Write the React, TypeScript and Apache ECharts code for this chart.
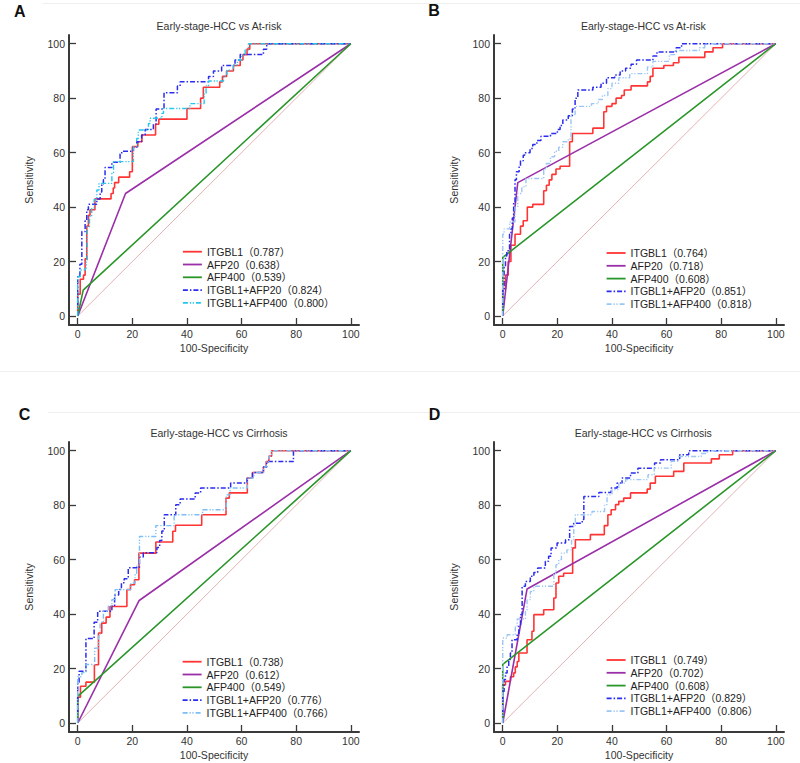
import React, { useEffect, useRef } from "react";
import * as echarts from "echarts";

// ---------- data ----------
const TICKS = [0, 20, 40, 60, 80, 100];
const MARKERS = ["ITGBL1", "AFP20", "AFP400", "ITGBL1+AFP20", "ITGBL1+AFP400"];
const PANEL_LABELS = ["A", "B", "C", "D"];
const PANEL_TITLES = [
  "Early-stage-HCC vs At-risk",
  "Early-stage-HCC vs At-risk",
  "Early-stage-HCC vs Cirrhosis",
  "Early-stage-HCC vs Cirrhosis",
];
const X_NAME = "100-Specificity";
const Y_NAME = "Sensitivity";
const DIAGONAL = [[0, 0], [100, 100]];

const AUC_A = [0.787, 0.638, 0.539, 0.824, 0.8];
const AUC_B = [0.764, 0.718, 0.608, 0.851, 0.818];
const AUC_C = [0.738, 0.612, 0.549, 0.776, 0.766];
const AUC_D = [0.749, 0.702, 0.608, 0.829, 0.806];

// step curves: each point = (100-specificity, sensitivity after the jump)
const A_ITGBL1 = [[0,0],[0,8],[0.9,13.5],[2.1,15],[2.7,21],[3.3,33],[3.9,37],[4.5,39],[6.3,43],[12.2,45],[13,47],[13.5,49],[15,51],[19,53],[20,62.2],[22,64],[23.5,66.5],[28.5,70.4],[29.7,72.3],[40,76.2],[45,80],[46,84],[52,86],[53,88],[54.5,90],[57,92],[59.5,94],[60.5,96],[62,98],[63,100],[100,100]];
const A_AFP20 = [[0,0],[17.5,45],[100,100]];
const A_AFP400 = [[0,0],[2,9.5],[100,100]];
const A_COMBO20 = [[0,0],[0,15],[0.8,19],[1.5,31],[2.7,35],[3.3,39],[3.9,41],[7,43],[8.2,45.5],[8.8,48.5],[9.4,50],[10,54.5],[12.5,56.5],[15.5,59.5],[16.1,60.5],[20.4,62],[21.6,64],[23.4,66.5],[24.7,68.5],[27.7,70.5],[28.7,76],[31.6,82],[36.5,84.5],[37.5,86],[47.9,88],[49.7,90],[52.7,92],[57.6,94],[59.5,96],[68,98],[69.2,100],[100,100]];
const A_COMBO400 = [[0,0],[0,14.4],[0.9,16.9],[2.7,17.5],[3.1,20.6],[3.5,32.8],[4.3,36.5],[5.1,39.5],[6,42.8],[7,46.3],[7.8,48.7],[12.5,52.4],[13.1,56.7],[20.4,62.2],[21.6,65.2],[22.2,68.3],[25.9,70.7],[26.5,72.6],[30.8,74.4],[31.4,76.2],[41.1,78],[46.3,81.8],[47,84.5],[47.9,86.3],[53.4,88.1],[54.6,90.3],[57,92.2],[58.5,94],[60.1,95.8],[61.3,97.7],[62.5,100],[100,100]];

const B_ITGBL1 = [[0,0],[0,10],[1,15],[2,20],[3,26],[4.5,30],[6.5,33],[7.5,35],[9,40],[11,41],[15,46],[16,48],[17,50],[18,52],[19.5,54],[21,55],[24.5,64],[25.5,67],[33,69],[37,75],[38,77],[40,78],[41.5,80],[43.5,81],[44.5,83],[47,84.5],[53,86],[54,88],[55,91],[59,92],[62.5,93],[64.5,95],[74,97],[77,98.5],[80.5,100],[100,100]];
const B_AFP20 = [[0,0],[5.5,49],[100,100]];
const B_AFP400 = [[0,0],[0,21.5],[100,100]];
const B_COMBO20 = [[0,0],[0,10],[0.5,18],[1,22],[1.5,24],[2.5,30],[3,32],[3.5,36],[4,42],[4.5,50],[5,53],[6,55],[6.5,57],[7.5,59],[8,60],[10,61.5],[11,63],[12.5,64.5],[14,66],[17.5,67],[20,68.5],[21,70],[22,72],[24,73.5],[25.5,76],[26.5,80],[27.5,83],[33,84],[36,85.5],[38,87.5],[41,88.5],[43,90],[45,91],[47,92.5],[49,94],[55,95.5],[56.5,97],[63.5,98.5],[65.5,100],[100,100]];
const B_COMBO400 = [[0,0],[0,30],[0.5,32],[2.5,34.5],[4.5,40],[5.5,45],[7,47.5],[8.5,50.5],[15,54],[16,56],[17.5,58.5],[19,60.5],[20.5,62],[22,64],[24,65],[25,74],[26.5,77],[32.5,78],[35,79.5],[36.5,81],[38.5,83.5],[40,85.5],[42.5,87.5],[46.5,89],[53,91.5],[55,93.5],[61,96],[63,97.5],[72,98.5],[74,100],[100,100]];

const C_ITGBL1 = [[0,0],[0,9.5],[1,13.5],[3,15],[6.1,21.4],[7.6,33],[8.8,36.7],[10.4,38.9],[11.8,42.8],[18,49],[19.3,50.8],[20.8,52.6],[22.4,62.4],[28.6,66.5],[34.8,70.4],[35.8,72.6],[45.4,76.5],[54.3,82.6],[55.5,84.5],[62.1,90],[64,92],[68,94],[69,96],[70,98],[71,100],[100,100]];
const C_AFP20 = [[0,0],[22.5,45],[100,100]];
const C_AFP400 = [[0,0],[0,9.8],[100,100]];
const C_COMBO20 = [[0,0],[0,15],[0.5,19],[3,31],[6,37],[7.3,41],[12.5,43],[13.5,47],[15,49],[16,51.5],[17,53],[18.5,57],[22.6,61],[24,62.5],[29,64.5],[30,67],[30.8,70.5],[31.7,76.5],[35.9,80.2],[37.5,82.3],[43,84.5],[45,86.3],[56,88.1],[62,90],[64,92],[68,94],[69.2,96],[79,100],[100,100]];
const C_COMBO400 = [[0,0],[0,17],[1.5,18.5],[3,21.5],[6.2,27.5],[7.6,32],[8.2,37],[9.4,41],[11.2,43],[12.5,45.3],[13.7,49],[19.5,51.4],[21,55],[21.6,58],[22.6,68.5],[28.6,72.5],[35.3,76.5],[45.7,78.3],[54.4,83.8],[55.8,86.3],[62.1,90],[64.5,92],[68,94],[69,96],[70,98],[71,100],[100,100]];

const D_ITGBL1 = [[0,0],[0,14],[1,15.3],[2.8,17],[4,18.4],[4.6,20.6],[5.3,22.6],[5.9,25.7],[8.9,30.6],[10.7,33.7],[11.4,39.8],[15,41.6],[18.7,45.9],[19.5,51.4],[20.5,53.9],[22.3,55],[25.6,64.3],[26.6,67.3],[32.1,69.2],[37.2,72.5],[38.5,76.5],[39.7,78.3],[41.3,80.2],[42.5,81.4],[44.3,82.6],[46.8,84.5],[52.9,85.9],[54,88.1],[55.9,90.6],[62.6,92.4],[66.3,95.5],[76.4,97],[79.3,98.5],[84.2,100],[100,100]];
const D_AFP20 = [[0,0],[8.9,49.2],[100,100]];
const D_AFP400 = [[0,0],[0,21.5],[100,100]];
const D_COMBO20 = [[0,0],[0,11.6],[0.5,16],[1,18.4],[1.6,20.8],[2.2,23.3],[2.8,25.7],[3.4,30.6],[5.3,33],[5.9,36.1],[6.5,39.8],[7.1,50.2],[8.3,52],[10.1,53.9],[11.4,55.3],[12.8,56.9],[15.6,59.4],[16.8,61.2],[17.7,64.3],[19.9,66.1],[23,67.3],[24.5,72.2],[26,73.4],[29.1,74.7],[29.7,83.2],[35.2,84.7],[39.7,86.3],[41.9,88.1],[43.7,90],[46.8,91.8],[49.5,93.6],[55.6,95.5],[57.8,96.7],[64.8,98.5],[68.1,100],[100,100]];
const D_COMBO400 = [[0,0],[0,31.2],[1.6,32.4],[4.6,35.5],[5.3,38.2],[8.3,41],[8.9,45.3],[10.1,48.3],[11.4,50.2],[18.7,55],[19.5,58.1],[20.5,60],[21.5,62.4],[23.5,63.6],[25.2,67.3],[26,72.2],[26.6,76.5],[32.7,77.7],[37.3,80.2],[38.2,83.8],[40,85.7],[42.5,88.1],[45,89.4],[53.2,91.2],[55.5,93.6],[61.7,96.1],[64.5,97.9],[72.7,99],[75,100],[100,100]];

// ---------- layout / style ----------
const FONT = "'Liberation Sans', Arial, 'Noto Sans CJK SC', sans-serif";
const PANELS = [
  { curves: [A_ITGBL1, A_AFP20, A_AFP400, A_COMBO20, A_COMBO400], auc: AUC_A, left: 69, top: 35, legendLeft: 182, legendTop: 245.7, title: [219, 26], letter: [19.7, 11.7], combo400Color: "#26c6ee" },
  { curves: [B_ITGBL1, B_AFP20, B_AFP400, B_COMBO20, B_COMBO400], auc: AUC_B, left: 494, top: 35, legendLeft: 605.7, legendTop: 247, title: [643.3, 26], letter: [434, 10.5], combo400Color: "#9cc6f4" },
  { curves: [C_ITGBL1, C_AFP20, C_AFP400, C_COMBO20, C_COMBO400], auc: AUC_C, left: 69, top: 442, legendLeft: 181.7, legendTop: 655.7, title: [219, 432.7], letter: [24.5, 414], combo400Color: "#7cbff5" },
  { curves: [D_ITGBL1, D_AFP20, D_AFP400, D_COMBO20, D_COMBO400], auc: AUC_D, left: 494, top: 442, legendLeft: 605.7, legendTop: 654, title: [643.3, 432.7], letter: [434.5, 414], combo400Color: "#9cc6f4" },
];
const BASE_STYLES = [
  { color: "#ff3535", width: 1.6, type: "solid" as any, step: "end" },
  { color: "#9a2fa8", width: 1.6, type: "solid" as any, step: false },
  { color: "#2a962a", width: 1.6, type: "solid" as any, step: false },
  { color: "#2a2cf0", width: 1.5, type: [5, 2, 1.5, 2] as any, step: "end" },
  { color: "#26c6ee", width: 1.4, type: [5, 2, 1.2, 1.6, 1.2, 2] as any, step: "end" },
];
const AXIS_COLOR = "#3a3a3a";
const TEXT_COLOR = "#333";

function buildOption() {
  const grid: any[] = [];
  const xAxis: any[] = [];
  const yAxis: any[] = [];
  const series: any[] = [];
  const legend: any[] = [];
  const graphic: any[] = [];

  graphic.push({ type: "line", z: 0, shape: { x1: 43, y1: 3.5, x2: 800, y2: 3.5 }, style: { stroke: "#eeeeee", lineWidth: 1 } });
  graphic.push({ type: "line", z: 0, shape: { x1: 0, y1: 371.5, x2: 800, y2: 371.5 }, style: { stroke: "#eeeeee", lineWidth: 1 } });
  graphic.push({ type: "line", z: 0, shape: { x1: 48, y1: 412.5, x2: 800, y2: 412.5 }, style: { stroke: "#eeeeee", lineWidth: 1 } });

  PANELS.forEach((p, i) => {
    grid.push({ left: p.left, top: p.top, width: 290, height: 290 });
    xAxis.push({
      type: "value", gridIndex: i, min: -3.2, max: 103,
      axisLine: { show: true, onZero: false, lineStyle: { color: AXIS_COLOR, width: 2 } },
      axisTick: { show: true, inside: true, length: 7, customValues: TICKS, lineStyle: { color: AXIS_COLOR, width: 1.3 } },
      axisLabel: { customValues: TICKS, margin: 4, color: TEXT_COLOR, fontSize: 10.5, fontFamily: FONT },
      splitLine: { show: false },
      name: X_NAME, nameLocation: "middle", nameGap: 18,
      nameTextStyle: { color: TEXT_COLOR, fontSize: 10.5, fontFamily: FONT },
    });
    yAxis.push({
      type: "value", gridIndex: i, min: -3.3, max: 103.2,
      axisLine: { show: true, onZero: false, lineStyle: { color: AXIS_COLOR, width: 2 } },
      axisTick: { show: true, inside: true, length: 7, customValues: TICKS, lineStyle: { color: AXIS_COLOR, width: 1.3 } },
      axisLabel: { customValues: TICKS, margin: 4, color: TEXT_COLOR, fontSize: 10.5, fontFamily: FONT },
      splitLine: { show: false },
      name: Y_NAME, nameLocation: "middle", nameGap: 35,
      nameTextStyle: { color: TEXT_COLOR, fontSize: 10.5, fontFamily: FONT },
    });
    series.push({
      type: "line", xAxisIndex: i, yAxisIndex: i, data: DIAGONAL, symbol: "none", silent: true, z: 1,
      lineStyle: { color: "#dba0a0", width: 0.8 },
    });
    const names: string[] = [];
    p.curves.forEach((curve, k) => {
      const st = BASE_STYLES[k];
      const name = `${MARKERS[k]}（${p.auc[k].toFixed(3)}）`;
      names.push(name);
      const color = k === 4 ? p.combo400Color : st.color;
      series.push({
        type: "line", name, xAxisIndex: i, yAxisIndex: i, data: curve, symbol: "none",
        step: st.step, z: 2 + k,
        lineStyle: { color, width: st.width, type: st.type },
        itemStyle: { color },
      });
    });
    legend.push({
      orient: "vertical", left: p.legendLeft, top: p.legendTop, padding: 0,
      itemWidth: 19, itemHeight: 10, itemGap: 0.8, itemTextGap: 7,
      selectedMode: false, data: names,
      itemStyle: { opacity: 0, borderWidth: 0 },
      lineStyle: { width: 1.8 },
      textStyle: { color: "#222", fontSize: 10.5, lineHeight: 12, fontFamily: FONT },
    });
    graphic.push({
      type: "text", z: 10, x: p.title[0], y: p.title[1],
      style: { text: PANEL_TITLES[i], fill: TEXT_COLOR, font: `10.5px ${FONT}`, textAlign: "center", textVerticalAlign: "middle" },
    });
    graphic.push({
      type: "text", z: 10, x: p.letter[0], y: p.letter[1],
      style: { text: PANEL_LABELS[i], fill: "#111", font: `bold 16px ${FONT}`, textAlign: "center", textVerticalAlign: "middle" },
    });
  });

  return {
    animation: false,
    backgroundColor: "#ffffff",
    textStyle: { fontFamily: FONT },
    grid, xAxis, yAxis, series, legend, graphic,
  };
}

export default function App() {
  const ref = useRef<HTMLDivElement>(null);
  useEffect(() => {
    document.body.style.margin = "0";
    if (!ref.current) return;
    const chart = echarts.init(ref.current, null, { renderer: "svg" });
    chart.setOption(buildOption() as any);
    return () => chart.dispose();
  }, []);
  return <div ref={ref} style={{ width: 800, height: 763 }} />;
}
